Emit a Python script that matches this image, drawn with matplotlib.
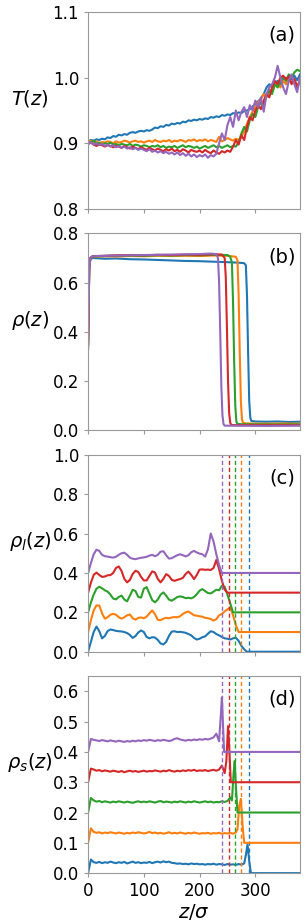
import numpy as np
import matplotlib
matplotlib.use('Agg')
import matplotlib.pyplot as plt

colors = ['C0', 'C1', 'C2', 'C3', 'C4']

# ---- (a) temperature profiles, bins every 5 sigma ----
T_blue = [0.903, 0.905, 0.904, 0.906, 0.905, 0.907, 0.906, 0.909, 0.908, 0.911, 0.910, 0.913, 0.912, 0.914, 0.913, 0.916, 0.917, 0.916, 0.918, 0.919, 0.918,
          0.920, 0.919, 0.921, 0.924, 0.923, 0.926, 0.925, 0.928, 0.927, 0.930,
          0.929, 0.931, 0.930, 0.933, 0.932, 0.935, 0.934, 0.936, 0.935, 0.937,
          0.936, 0.938, 0.937, 0.940, 0.939, 0.941, 0.940, 0.943, 0.942, 0.944,
          0.943, 0.946, 0.945, 0.947, 0.946, 0.949, 0.950, 0.952, 0.956, 0.960,
          0.964, 0.968, 0.975, 0.985, 0.990, 0.986, 0.992, 0.995, 0.990, 0.998,
          1.000, 0.994, 0.998, 1.003, 0.996, 1.005]
T_orange = [0.902, 0.904, 0.901, 0.903, 0.900, 0.902, 0.901, 0.903, 0.902, 0.900, 0.903, 0.901, 0.902, 0.904, 0.903, 0.901, 0.903, 0.904, 0.902, 0.903, 0.901,
            0.903, 0.904, 0.902, 0.905, 0.903, 0.902, 0.904, 0.903, 0.905, 0.902,
            0.904, 0.903, 0.905, 0.904, 0.902, 0.905, 0.904, 0.906, 0.903, 0.905,
            0.904, 0.906, 0.903, 0.905, 0.904, 0.902, 0.910, 0.903, 0.905, 0.908,
            0.906, 0.904, 0.907, 0.905, 0.910, 0.918, 0.930, 0.940, 0.948, 0.955,
            0.962, 0.968, 0.975, 0.970, 0.982, 0.978, 0.988, 0.992, 0.985, 0.995,
            0.990, 1.000, 0.992, 0.997, 0.988, 0.995]
T_green = [0.900, 0.902, 0.904, 0.899, 0.901, 0.898, 0.900, 0.899, 0.901, 0.898, 0.899, 0.897, 0.899, 0.898, 0.897, 0.899, 0.896, 0.898, 0.897, 0.895, 0.897,
           0.896, 0.894, 0.896, 0.895, 0.897, 0.894, 0.896, 0.893, 0.895, 0.894,
           0.896, 0.893, 0.895, 0.897, 0.894, 0.896, 0.895, 0.893, 0.895, 0.892,
           0.894, 0.896, 0.893, 0.895, 0.897, 0.894, 0.896, 0.893, 0.895, 0.897,
           0.894, 0.896, 0.895, 0.902, 0.915, 0.925, 0.918, 0.935, 0.945, 0.940,
           0.955, 0.962, 0.958, 0.972, 0.980, 0.975, 0.990, 0.985, 0.995, 1.000,
           0.995, 1.005, 1.000, 1.008, 1.012, 1.010]
T_red = [0.899, 0.901, 0.898, 0.896, 0.898, 0.897, 0.895, 0.897, 0.896, 0.894, 0.896, 0.895, 0.893, 0.896, 0.894, 0.892, 0.895, 0.893, 0.891, 0.894, 0.892,
         0.890, 0.893, 0.891, 0.889, 0.892, 0.890, 0.888, 0.891, 0.889, 0.892,
         0.888, 0.890, 0.887, 0.891, 0.889, 0.886, 0.890, 0.888, 0.887, 0.889,
         0.886, 0.890, 0.887, 0.885, 0.889, 0.886, 0.884, 0.888, 0.886, 0.889,
         0.887, 0.895, 0.905, 0.898, 0.912, 0.905, 0.925, 0.940, 0.935, 0.950,
         0.958, 0.952, 0.965, 0.975, 0.970, 0.985, 0.995, 0.990, 1.000, 1.003,
         0.997, 1.002, 0.990, 0.998, 0.985, 0.995]
T_purple = [0.899, 0.902, 0.898, 0.900, 0.897, 0.899, 0.896, 0.898, 0.895, 0.897, 0.894, 0.896, 0.893, 0.895, 0.892, 0.894, 0.891, 0.893, 0.890, 0.892, 0.890,
            0.888, 0.891, 0.887, 0.889, 0.886, 0.888, 0.885, 0.887, 0.884, 0.886,
            0.883, 0.886, 0.882, 0.885, 0.881, 0.884, 0.880, 0.883, 0.879, 0.882,
            0.880, 0.883, 0.878, 0.882, 0.880, 0.884, 0.900, 0.915, 0.905, 0.928,
            0.940, 0.925, 0.950, 0.935, 0.948, 0.955, 0.940, 0.958, 0.950, 0.965,
            0.955, 0.970, 0.948, 0.975, 0.985, 0.990, 1.000, 1.018, 1.000, 0.985,
            0.975, 0.995, 1.005, 0.990, 0.978, 1.000]

# ---- (b) total density ----
z_rho_blue = [0, 2, 4, 8, 15, 30, 50, 75, 100, 125, 150, 175, 200, 225, 250, 270, 280, 283, 285, 287, 289, 291, 293, 300, 320, 340, 360, 380]
rho_blue = [0.36, 0.66, 0.695, 0.700, 0.699, 0.697, 0.698, 0.695, 0.694, 0.692, 0.690, 0.688, 0.687, 0.685, 0.683, 0.681, 0.679, 0.670, 0.55, 0.32, 0.12, 0.05, 0.038, 0.036, 0.035, 0.036, 0.034, 0.035]
z_rho_orange = [0, 2, 4, 8, 15, 30, 50, 75, 100, 125, 150, 175, 200, 225, 250, 265, 268, 270, 272, 274, 276, 278, 285, 320, 350, 380]
rho_orange = [0.35, 0.66, 0.70, 0.706, 0.705, 0.707, 0.706, 0.708, 0.707, 0.709, 0.708, 0.709, 0.708, 0.710, 0.709, 0.705, 0.69, 0.55, 0.32, 0.12, 0.045, 0.03, 0.028, 0.027, 0.028, 0.027]
z_rho_green = [0, 2, 4, 8, 15, 30, 50, 75, 100, 125, 150, 175, 200, 225, 250, 255, 258, 260, 262, 264, 266, 268, 275, 320, 380]
rho_green = [0.35, 0.66, 0.70, 0.707, 0.706, 0.708, 0.709, 0.710, 0.709, 0.711, 0.710, 0.712, 0.711, 0.713, 0.712, 0.705, 0.68, 0.52, 0.28, 0.10, 0.035, 0.026, 0.025, 0.024, 0.024]
z_rho_red = [0, 2, 4, 8, 15, 30, 50, 75, 100, 125, 150, 175, 200, 225, 240, 245, 247, 249, 251, 253, 255, 257, 265, 320, 380]
rho_red = [0.34, 0.66, 0.70, 0.707, 0.708, 0.709, 0.711, 0.712, 0.711, 0.713, 0.712, 0.714, 0.713, 0.715, 0.714, 0.70, 0.62, 0.42, 0.20, 0.07, 0.03, 0.022, 0.021, 0.021, 0.021]
z_rho_purple = [0, 2, 4, 8, 15, 30, 50, 75, 100, 125, 150, 175, 200, 220, 230, 233, 235, 237, 239, 241, 243, 245, 255, 320, 380]
rho_purple = [0.33, 0.65, 0.70, 0.707, 0.708, 0.709, 0.710, 0.711, 0.712, 0.713, 0.714, 0.715, 0.716, 0.718, 0.716, 0.70, 0.60, 0.40, 0.18, 0.06, 0.025, 0.019, 0.019, 0.018, 0.019]

# ---- (c) liquid-like density (5 sigma bins until flat, shifted by offsets) ----
rhol_blue = [0.0, 0.05, 0.10, 0.128, 0.105, 0.068, 0.080, 0.105, 0.113, 0.110, 0.106, 0.104, 0.103, 0.100, 0.095, 0.085, 0.070, 0.080, 0.098, 0.108, 0.100,
             0.075, 0.068, 0.074, 0.072, 0.060, 0.042, 0.037, 0.050, 0.080, 0.102,
             0.104, 0.100, 0.101, 0.099, 0.096, 0.090, 0.083, 0.070, 0.062, 0.066,
             0.074, 0.078, 0.092, 0.104, 0.100, 0.090, 0.083, 0.075, 0.068, 0.066,
             0.062, 0.068, 0.071, 0.055, 0.030, 0.012, 0.0]
rhol_orange = [0.0, 0.06, 0.11, 0.135, 0.135, 0.095, 0.068, 0.075, 0.088, 0.092, 0.088, 0.075, 0.068, 0.075, 0.085, 0.089, 0.070, 0.063, 0.072, 0.074, 0.070,
               0.078, 0.095, 0.110, 0.090, 0.062, 0.060, 0.068, 0.072, 0.070, 0.074,
               0.076, 0.075, 0.080, 0.092, 0.100, 0.104, 0.095, 0.085, 0.083, 0.080,
               0.078, 0.072, 0.070, 0.066, 0.058, 0.065, 0.085, 0.092, 0.105, 0.115,
               0.125, 0.085, 0.035, 0.0]
rhol_green = [0.0, 0.05, 0.09, 0.12, 0.13, 0.122, 0.112, 0.105, 0.09, 0.07, 0.066, 0.078, 0.085, 0.065, 0.056, 0.085, 0.115, 0.108, 0.078, 0.075, 0.12,
              0.128, 0.095, 0.062, 0.051, 0.065, 0.09, 0.101, 0.085, 0.065, 0.059,
              0.068, 0.078, 0.081, 0.078, 0.072, 0.074, 0.071, 0.078, 0.092, 0.110,
              0.118, 0.108, 0.098, 0.096, 0.105, 0.115, 0.112, 0.135, 0.13, 0.09,
              0.045, 0.0]
rhol_red = [0.0, 0.05, 0.09, 0.102, 0.09, 0.08, 0.082, 0.088, 0.089, 0.10, 0.125, 0.133, 0.11, 0.07, 0.052, 0.065, 0.095, 0.111, 0.105, 0.08, 0.062,
            0.062, 0.085, 0.108, 0.102, 0.07, 0.052, 0.07, 0.094, 0.085, 0.065,
            0.06, 0.065, 0.069, 0.075, 0.095, 0.107, 0.09, 0.069, 0.09, 0.117,
            0.118, 0.116, 0.117, 0.115, 0.125, 0.166, 0.12, 0.06, 0.015, 0.0]
rhol_purple = [0.0, 0.05, 0.095, 0.118, 0.112, 0.092, 0.085, 0.083, 0.08, 0.078, 0.082, 0.092, 0.1, 0.103, 0.092, 0.078, 0.072, 0.07, 0.074, 0.077, 0.079,
               0.082, 0.088, 0.092, 0.085, 0.092, 0.108, 0.11, 0.09, 0.073, 0.075,
               0.083, 0.09, 0.095, 0.09, 0.084, 0.09, 0.105, 0.112, 0.104, 0.098,
               0.095, 0.083, 0.12, 0.2, 0.16, 0.095, 0.04, 0.0]

# ---- (d) solid-like density ----
z_rhos_blue = list(range(0, 281, 5)) + [283, 286, 289, 292, 380]
rhos_blue = [0.0, 0.045, 0.036, 0.034, 0.037, 0.033, 0.036, 0.034, 0.038, 0.035, 0.033,
             0.036, 0.034, 0.037, 0.032, 0.035, 0.038, 0.034, 0.036, 0.033, 0.035,
             0.034, 0.037, 0.033, 0.036, 0.038, 0.035, 0.039, 0.036, 0.038, 0.034,
             0.033, 0.031, 0.032, 0.030, 0.031, 0.029, 0.032, 0.030, 0.031, 0.029,
             0.030, 0.028, 0.030, 0.029, 0.031, 0.028, 0.030, 0.029, 0.027, 0.030,
             0.028, 0.029, 0.027, 0.030, 0.028, 0.032,
             0.06, 0.095, 0.04, 0.0, 0.0]
z_rhos_orange = list(range(0, 266, 5)) + [268, 271, 274, 277, 280, 380]
rhos_orange = [0.0, 0.048, 0.036, 0.033, 0.035, 0.031, 0.034, 0.032, 0.035, 0.033, 0.031,
               0.034, 0.032, 0.030, 0.033, 0.031, 0.034, 0.032, 0.035, 0.033, 0.031,
               0.033, 0.036, 0.032, 0.034, 0.031, 0.033, 0.030, 0.032, 0.035, 0.031,
               0.033, 0.031, 0.034, 0.032, 0.030, 0.033, 0.031, 0.034, 0.032, 0.030,
               0.032, 0.031, 0.033, 0.030, 0.032, 0.031, 0.033, 0.030, 0.032, 0.031,
               0.033, 0.030, 0.034,
               0.045, 0.12, 0.145, 0.06, 0.0, 0.0]
z_rhos_green = list(range(0, 256, 5)) + [258, 261, 263, 265, 268, 380]
rhos_green = [0.0, 0.048, 0.04, 0.036, 0.038, 0.034, 0.037, 0.035, 0.033, 0.036, 0.034,
              0.037, 0.035, 0.033, 0.036, 0.034, 0.032, 0.035, 0.037, 0.034, 0.036,
              0.034, 0.037, 0.035, 0.033, 0.036, 0.038, 0.034, 0.036, 0.035, 0.033,
              0.036, 0.034, 0.037, 0.035, 0.033, 0.036, 0.034, 0.037, 0.035, 0.033,
              0.035, 0.037, 0.034, 0.036, 0.033, 0.035, 0.034, 0.037, 0.035, 0.038,
              0.05,
              0.04, 0.13, 0.17, 0.09, 0.0, 0.0]
z_rhos_red = list(range(0, 246, 5)) + [248, 251, 253, 256, 380]
rhos_red = [0.0, 0.045, 0.042, 0.038, 0.040, 0.036, 0.039, 0.037, 0.035, 0.038, 0.036,
            0.034, 0.037, 0.033, 0.036, 0.038, 0.035, 0.037, 0.034, 0.036, 0.038,
            0.035, 0.037, 0.036, 0.039, 0.037, 0.035, 0.038, 0.036, 0.040, 0.037,
            0.035, 0.038, 0.036, 0.039, 0.037, 0.040, 0.038, 0.041, 0.037, 0.039,
            0.038, 0.040, 0.037, 0.039, 0.041, 0.038, 0.042, 0.055, 0.03,
            0.07, 0.185, 0.12, 0.0, 0.0]
z_rhos_purple = list(range(0, 236, 5)) + [238, 240, 242, 244, 380]
rhos_purple = [0.0, 0.043, 0.040, 0.038, 0.036, 0.039, 0.037, 0.035, 0.038, 0.036, 0.034,
               0.037, 0.035, 0.033, 0.036, 0.034, 0.037, 0.035, 0.038, 0.036, 0.039,
               0.037, 0.040, 0.038, 0.036, 0.039, 0.037, 0.040, 0.038, 0.036, 0.038,
               0.043, 0.045, 0.041, 0.039, 0.037, 0.040, 0.038, 0.041, 0.039, 0.042,
               0.040, 0.043, 0.041, 0.044, 0.048, 0.060, 0.035,
               0.12, 0.18, 0.09, 0.0, 0.0]

offsets = [0.0, 0.1, 0.2, 0.3, 0.4]
z_interface = [288, 275, 264, 252, 241]

T_all = [T_blue, T_orange, T_green, T_red, T_purple]
rho_all = [(z_rho_blue, rho_blue), (z_rho_orange, rho_orange), (z_rho_green, rho_green),
           (z_rho_red, rho_red), (z_rho_purple, rho_purple)]
rhol_all = [rhol_blue, rhol_orange, rhol_green, rhol_red, rhol_purple]
rhos_all = [(z_rhos_blue, rhos_blue), (z_rhos_orange, rhos_orange), (z_rhos_green, rhos_green),
            (z_rhos_red, rhos_red), (z_rhos_purple, rhos_purple)]

plt.rcParams['font.size'] = 12
plt.rcParams['axes.edgecolor'] = '#999999'
plt.rcParams['xtick.color'] = '#999999'
plt.rcParams['ytick.color'] = '#999999'
plt.rcParams['xtick.labelcolor'] = 'black'
plt.rcParams['ytick.labelcolor'] = 'black'
plt.rcParams['xtick.major.size'] = 3
plt.rcParams['ytick.major.size'] = 3

fig, axs = plt.subplots(4, 1, figsize=(3.07, 9.22), dpi=100, sharex=True)
fig.subplots_adjust(left=0.287, right=0.977, top=0.987, bottom=0.053, hspace=0.124)
lw = 1.5

ax = axs[0]
for c, T in zip(colors, T_all):
    z = np.arange(len(T)) * 5
    ax.plot(z, T, color=c, lw=lw)
ax.set_ylim(0.8, 1.1)
ax.set_yticks([0.8, 0.9, 1.0, 1.1])
ax.set_ylabel(r'$T(z)$')

ax = axs[1]
for c, (z, r) in zip(colors, rho_all):
    ax.plot(z, r, color=c, lw=lw)
ax.set_ylim(0, 0.8)
ax.set_yticks([0.0, 0.2, 0.4, 0.6, 0.8])
ax.set_ylabel(r'$\rho(z)$')

ax = axs[2]
for c, r, off, zi in zip(colors, rhol_all, offsets, z_interface):
    z = np.arange(len(r)) * 5
    z = np.append(z, 380)
    r = np.append(r, 0.0)
    ax.plot(z, r + off, color=c, lw=lw)
    ax.axvline(zi, color=c, lw=1.0, ls=(0, (3, 2)))
ax.set_ylim(0, 1.0)
ax.set_yticks([0.0, 0.2, 0.4, 0.6, 0.8, 1.0])
ax.set_ylabel(r'$\rho_l(z)$')

ax = axs[3]
for c, (z, r), off, zi in zip(colors, rhos_all, offsets, z_interface):
    ax.plot(z, np.array(r) + off, color=c, lw=lw)
    ax.axvline(zi, color=c, lw=1.0, ls=(0, (3, 2)))
ax.set_ylim(0, 0.65)
ax.set_yticks([0.0, 0.1, 0.2, 0.3, 0.4, 0.5, 0.6])
ax.set_ylabel(r'$\rho_s(z)$')
ax.set_xlabel(r'$z/\sigma$', fontsize=14, labelpad=1)

axs[3].set_xlim(0, 380)
axs[3].set_xticks([0, 100, 200, 300])

for ax, lab in zip(axs, ['(a)', '(b)', '(c)', '(d)']):
    ax.text(0.98, 0.93, lab, transform=ax.transAxes, ha='right', va='top', fontsize=14)
    ax.yaxis.label.set_fontsize(14)
    ax.yaxis.label.set_rotation(0)
    ax.yaxis.label.set_ha('center')
    ax.yaxis.label.set_va('center')
    ax.yaxis.set_label_coords(-0.275, 0.56)

fig.savefig('out.png', dpi=100)
